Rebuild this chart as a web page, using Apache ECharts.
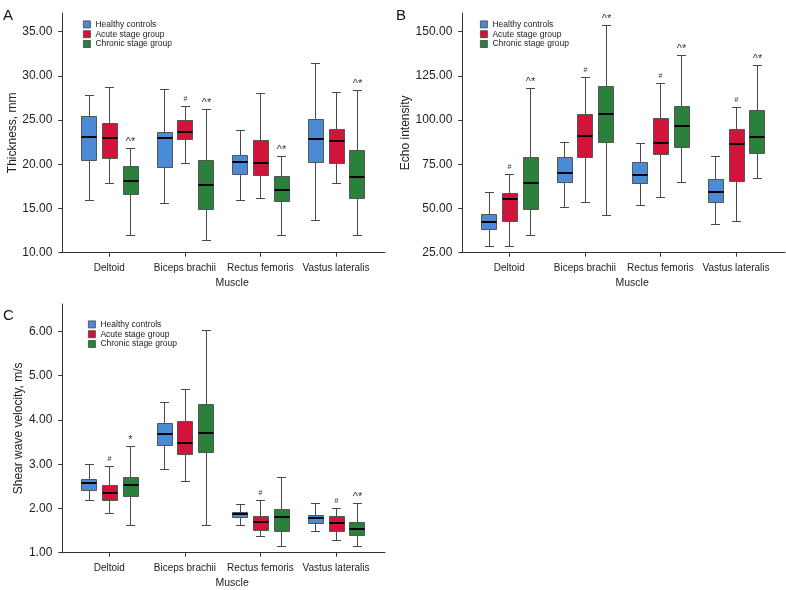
<!DOCTYPE html>
<html>
<head>
<meta charset="utf-8">
<script src="https://cdn.jsdelivr.net/npm/echarts@6/dist/echarts.min.js"></script>
<style>
  html, body { margin: 0; padding: 0; background: #ffffff; }
  #chart { width: 786px; height: 590px; }
</style>
</head>
<body>
<div id="chart"></div>
<script>
// ---------- data ----------
const categories = ['Deltoid', 'Biceps brachii', 'Rectus femoris', 'Vastus lateralis'];
const groups = ['Healthy controls', 'Acute stage group', 'Chronic stage group'];

// each row: [min, Q1, median, Q3, max] per muscle
const thicknessHealthy = [[15.99, 20.50, 23.10, 25.44, 27.85], [15.65, 19.75, 22.95, 23.70, 28.52], [15.99, 18.89, 20.28, 21.07, 23.93], [13.73, 20.24, 22.91, 25.14, 31.46]];
const thicknessAcute   = [[17.85, 20.69, 22.95, 24.68, 28.79], [20.17, 22.88, 23.70, 25.06, 26.64], [16.21, 18.81, 20.13, 22.80, 28.07], [17.91, 20.13, 22.65, 24.01, 28.22]];
const thicknessChronic = [[11.96, 16.66, 18.09, 19.86, 21.90], [11.47, 14.97, 17.68, 20.50, 26.27], [11.96, 15.80, 17.08, 18.66, 20.99], [11.96, 16.17, 18.51, 21.67, 28.41]];
const thicknessMarksHealthy = ['', '', '', ''];
const thicknessMarksAcute   = ['', '#', '', ''];
const thicknessMarksChronic = ['^*', '^*', '^*', '^*'];

const echoHealthy = [[28.9, 38.3, 42.1, 47.0, 59.6], [50.8, 64.8, 69.9, 79.3, 87.4], [52.1, 64.5, 69.0, 76.5, 87.0], [41.2, 53.8, 59.5, 66.5, 79.7]];
const echoAcute   = [[28.6, 42.9, 55.5, 58.8, 69.7], [53.4, 78.9, 91.0, 103.4, 124.6], [56.4, 80.8, 86.8, 101.3, 120.9], [42.9, 65.7, 86.3, 94.9, 107.7]];
const echoChronic = [[35.0, 50.0, 64.3, 79.3, 118.4], [46.1, 87.4, 103.2, 119.4, 153.8], [64.8, 85.0, 96.6, 107.9, 136.7], [67.1, 81.2, 90.2, 106.0, 131.4]];
const echoMarksHealthy = ['', '', '', ''];
const echoMarksAcute   = ['#', '#', '#', '#'];
const echoMarksChronic = ['^*', '^*', '^*', '^*'];

const swvHealthy = [[2.20, 2.41, 2.57, 2.67, 3.01], [2.90, 3.44, 3.68, 3.94, 4.41], [1.62, 1.80, 1.87, 1.92, 2.09], [1.49, 1.67, 1.78, 1.86, 2.12]];
const swvAcute   = [[1.90, 2.20, 2.35, 2.52, 2.97], [2.61, 3.22, 3.49, 3.98, 4.69], [1.37, 1.52, 1.70, 1.82, 2.20], [1.29, 1.50, 1.68, 1.82, 2.00]];
const swvChronic = [[1.62, 2.27, 2.54, 2.72, 3.41], [1.62, 3.27, 3.71, 4.37, 6.03], [1.16, 1.49, 1.80, 1.99, 2.70], [1.16, 1.39, 1.53, 1.69, 2.12]];
const swvMarksHealthy = ['', '', '', ''];
const swvMarksAcute   = ['#', '', '#', '#'];
const swvMarksChronic = ['*', '', '', '^*'];

const thicknessTicks = [10, 15, 20, 25, 30, 35];
const echoTicks = [25, 50, 75, 100, 125, 150];
const swvTicks = [1, 2, 3, 4, 5, 6];
const muscleTicks = [1, 2, 3, 4];

// ---------- styling ----------
const FONT = "'Liberation Sans', Arial, Helvetica, sans-serif";
const TEXT = '#222';
const AXIS = '#333';
const colors = ['#4b8ad4', '#d2133a', '#2b803b'];
const SLOT_STEP = 0.274;  // box spacing in category units
const BOX_W = 0.2;        // box width in category units
const CAP_W = 0.105;      // whisker cap width

function makeSeries(name, slot, values, marks, idx) {
  return {
    type: 'custom',
    name: name,
    xAxisIndex: idx,
    yAxisIndex: idx,
    itemStyle: { color: colors[slot] },
    clip: false,
    data: values.map((d, i) => [i + 1].concat(d)),
    renderItem: function (params, api) {
      const xv = api.value(0);
      const unit = api.size([1, 0])[0];
      const cx = api.coord([xv, api.value(3)])[0] + (slot - 1) * SLOT_STEP * unit;
      const y = k => Math.round(api.coord([xv, api.value(k)])[1]);
      const yMin = y(1), yQ1 = y(2), yMed = y(3), yQ3 = y(4), yMax = y(5);
      const px = Math.round(cx) + 0.5;
      const bw = Math.round(BOX_W * unit);
      const bx = Math.round(cx - bw / 2) + 0.5;
      const cw = Math.round(CAP_W * unit);
      const cxl = Math.round(cx - cw / 2);
      const lineStyle = { stroke: '#4a4a4a', lineWidth: 1, fill: null };
      const children = [
        { type: 'line', shape: { x1: px, y1: yMax + 0.5, x2: px, y2: yQ3 }, style: lineStyle },
        { type: 'line', shape: { x1: px, y1: yQ1, x2: px, y2: yMin + 0.5 }, style: lineStyle },
        { type: 'line', shape: { x1: cxl, y1: yMax + 0.5, x2: cxl + cw + 1, y2: yMax + 0.5 }, style: lineStyle },
        { type: 'line', shape: { x1: cxl, y1: yMin + 0.5, x2: cxl + cw + 1, y2: yMin + 0.5 }, style: lineStyle },
        { type: 'rect', shape: { x: bx, y: yQ3 + 0.5, width: bw, height: yQ1 - yQ3 },
          style: { fill: colors[slot], stroke: '#555', lineWidth: 1 } },
        { type: 'line', shape: { x1: bx, y1: yMed, x2: bx + bw, y2: yMed },
          style: { stroke: '#000', lineWidth: 2 } }
      ];
      const mark = marks[params.dataIndex];
      if (mark) {
        children.push({
          type: 'text',
          style: {
            text: mark, x: px, y: yMax - (mark === '#' ? 3 : 1),
            align: 'center', verticalAlign: 'bottom',
            fontSize: mark === '#' ? 7 : 11, fontFamily: FONT, fill: '#333'
          }
        });
      }
      return { type: 'group', children: children };
    }
  };
}

function xAxisFor(idx) {
  return {
    type: 'value', gridIndex: idx, min: 0.378, max: 4.648,
    axisLine: { show: true, lineStyle: { color: AXIS, width: 1 } },
    axisTick: { show: true, customValues: muscleTicks, length: 4, lineStyle: { color: AXIS } },
    axisLabel: { customValues: muscleTicks, formatter: v => categories[Math.round(v) - 1] || '',
      fontSize: 10, color: TEXT, fontFamily: FONT, margin: 11 },
    splitLine: { show: false },
    name: 'Muscle', nameLocation: 'middle', nameGap: 25,
    nameTextStyle: { fontSize: 10.5, color: TEXT, fontFamily: FONT, padding: [0, 0, 0, 17] }
  };
}

function yAxisFor(idx, name, min, max, ticks, gap) {
  return {
    type: 'value', gridIndex: idx, min: min, max: max,
    axisLine: { show: true, lineStyle: { color: AXIS, width: 1 } },
    axisTick: { show: true, customValues: ticks, length: 4, lineStyle: { color: AXIS } },
    axisLabel: { customValues: ticks, formatter: v => v.toFixed(2),
      fontSize: 12, color: TEXT, fontFamily: FONT, margin: 10 },
    splitLine: { show: false },
    name: name, nameLocation: 'middle', nameGap: gap,
    nameTextStyle: { fontSize: 12, color: TEXT, fontFamily: FONT }
  };
}

function legendFor(left, top) {
  return {
    orient: 'vertical', left: left, top: top, padding: 0,
    itemWidth: 7, itemHeight: 7, itemGap: 0, selectedMode: false,
    textStyle: { fontSize: 8.5, color: TEXT, fontFamily: FONT, lineHeight: 9.8 },
    data: groups.map((g, i) => ({ name: g, icon: 'rect',
      itemStyle: { color: colors[i], borderColor: '#444', borderWidth: 0.8 } }))
  };
}

const chart = echarts.init(document.getElementById('chart'), null, { renderer: 'canvas' });
chart.setOption({
  animation: false,
  backgroundColor: '#ffffff',
  title: [
    { text: 'A', left: 3, top: 8, padding: 0, textStyle: { fontSize: 15, fontWeight: 'normal', color: '#111', fontFamily: FONT } },
    { text: 'B', left: 396, top: 8, padding: 0, textStyle: { fontSize: 15, fontWeight: 'normal', color: '#111', fontFamily: FONT } },
    { text: 'C', left: 3, top: 308, padding: 0, textStyle: { fontSize: 15, fontWeight: 'normal', color: '#111', fontFamily: FONT } }
  ],
  legend: [legendFor(83, 19.5), legendFor(480, 19.5), legendFor(88, 319.5)],
  grid: [
    { left: 62.3, top: 13, width: 322.7, height: 239.7 },
    { left: 462.3, top: 13, width: 322.7, height: 239.7 },
    { left: 62.3, top: 304, width: 322.7, height: 248.7 }
  ],
  xAxis: [xAxisFor(0), xAxisFor(1), xAxisFor(2)],
  yAxis: [
    yAxisFor(0, 'Thickness, mm', 10, 37.12, thicknessTicks, 38),
    yAxisFor(1, 'Echo intensity', 25, 160.6, echoTicks, 45),
    yAxisFor(2, 'Shear wave velocity, m/s', 1, 6.62, swvTicks, 33)
  ],
  series: [
    makeSeries(groups[0], 0, thicknessHealthy, thicknessMarksHealthy, 0),
    makeSeries(groups[1], 1, thicknessAcute, thicknessMarksAcute, 0),
    makeSeries(groups[2], 2, thicknessChronic, thicknessMarksChronic, 0),
    makeSeries(groups[0], 0, echoHealthy, echoMarksHealthy, 1),
    makeSeries(groups[1], 1, echoAcute, echoMarksAcute, 1),
    makeSeries(groups[2], 2, echoChronic, echoMarksChronic, 1),
    makeSeries(groups[0], 0, swvHealthy, swvMarksHealthy, 2),
    makeSeries(groups[1], 1, swvAcute, swvMarksAcute, 2),
    makeSeries(groups[2], 2, swvChronic, swvMarksChronic, 2)
  ]
});
</script>
</body>
</html>
